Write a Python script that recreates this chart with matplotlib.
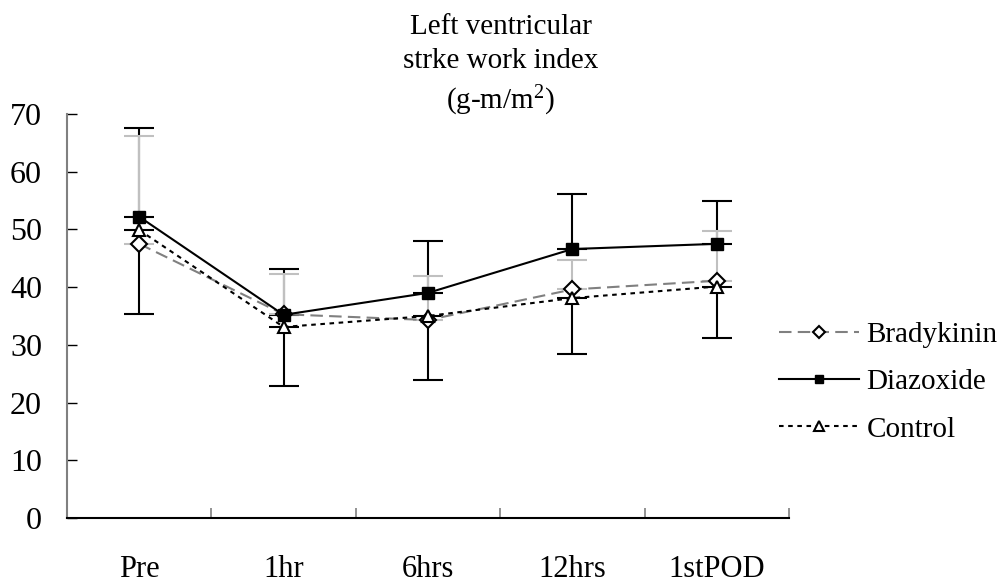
import numpy as np
import matplotlib
matplotlib.use("Agg")
import matplotlib.pyplot as plt

plt.rcParams['font.family'] = ['Liberation Serif', 'DejaVu Serif']
plt.rcParams['mathtext.fontset'] = 'custom'
plt.rcParams['mathtext.rm'] = 'Liberation Serif'
plt.rcParams['mathtext.default'] = 'regular'

# time points and group means
timepoints = ['Pre', '1hr', '6hrs', '12hrs', '1stPOD']
bradykinin = [47.5, 35.3, 34.3, 39.6, 41.1]
diazoxide = [52.2, 35.2, 39.0, 46.6, 47.5]
control = [49.9, 33.1, 35.0, 38.1, 40.1]

# one-sided error bars (upper for Bradykinin / Diazoxide, lower for Control)
bradykinin_err_up = [18.7, 7.0, 7.6, 5.1, 8.7]
diazoxide_err_up = [15.3, 7.9, 9.0, 9.5, 7.5]
control_err_down = [14.6, 10.2, 11.1, 9.7, 9.0]

fig = plt.figure(figsize=(10.01, 5.83), dpi=100)
ax = fig.add_axes([0.0669, 0.1115, 0.7213, 0.6930])

x = np.arange(len(timepoints))
zeros = np.zeros(len(x))

# error bars first so the markers sit on top
ax.errorbar(x, diazoxide, yerr=[zeros, diazoxide_err_up], fmt='none',
            ecolor='black', elinewidth=1.5, capsize=11, capthick=1.5, zorder=2)
ax.errorbar(x, control, yerr=[control_err_down, zeros], fmt='none',
            ecolor='black', elinewidth=1.5, capsize=11, capthick=1.5, zorder=2)
ax.errorbar(x, bradykinin, yerr=[zeros, bradykinin_err_up], fmt='none',
            ecolor='#c0c0c0', elinewidth=1.5, capsize=11, capthick=1.5, zorder=3)

ax.plot(x, bradykinin, color='#808080', lw=1.5, dashes=(6, 3),
        marker='D', ms=8, mfc='white', mec='black', mew=1.5,
        label='Bradykinin', zorder=4)
ax.plot(x, diazoxide, color='black', lw=1.5, ls='-',
        marker='s', ms=8, mfc='black', mec='black',
        label='Diazoxide', zorder=5)
ax.plot(x, control, color='black', lw=1.5, dashes=(2.2, 2.2),
        marker='^', ms=9, mfc='white', mec='black', mew=1.5,
        label='Control', zorder=6)

ax.set_xlim(-0.5, len(x) - 0.5)
ax.set_ylim(0, 70)
ax.set_yticks(range(0, 71, 10))

# category labels centred, boundary ticks between groups
ax.set_xticks(x)
ax.set_xticklabels(timepoints)
ax.set_xticks(np.arange(0.5, len(x), 1), minor=True)
ax.tick_params(axis='x', which='major', length=0, pad=27, labelsize=22)
ax.tick_params(axis='x', which='minor', direction='in', length=7, width=1.2,
               color='#808080')
ax.tick_params(axis='y', direction='in', length=7, width=1, pad=18,
               labelsize=23)

for side in ['top', 'right']:
    ax.spines[side].set_visible(False)
ax.spines['left'].set_color('#808080')
ax.spines['left'].set_linewidth(1.5)
ax.spines['bottom'].set_color('black')
ax.spines['bottom'].set_linewidth(1.5)

fig.text(0.5, 1 - 14 / 583, 'Left ventricular\nstrke work index\n(g-m/m$^{2}$)',
         ha='center', va='top', fontsize=21, linespacing=1.4)

leg = ax.legend(loc='center left', bbox_to_anchor=(0.778, 0.3448),
                bbox_transform=fig.transFigure, frameon=False, fontsize=21,
                handlelength=2.75, handletextpad=0.25, labelspacing=0.72,
                borderpad=0, borderaxespad=0, markerscale=0.8)

fig.savefig('out.png', dpi=100)
